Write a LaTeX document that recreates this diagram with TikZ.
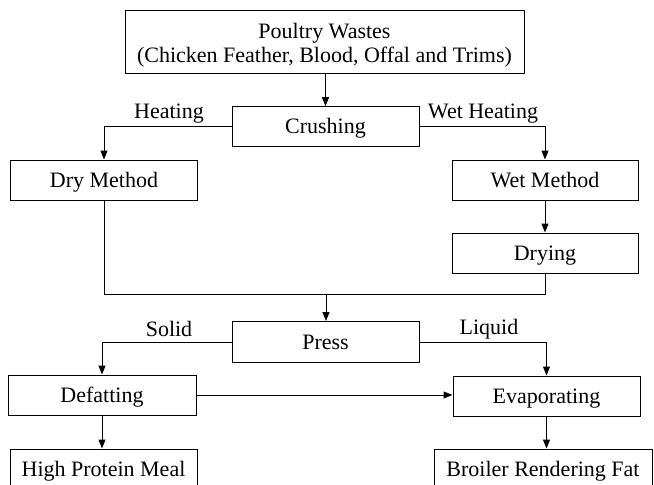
\documentclass[tikz,border=0pt]{standalone}
\usepackage{fontspec}
\setmainfont{Liberation Serif}
\usetikzlibrary{arrows.meta}
\begin{document}
\begin{tikzpicture}[x=1pt,y=-1pt,
  box/.style={draw,line width=1pt,inner sep=0pt,align=center,text height=16.5pt,text depth=2pt,font=\fontsize{22}{24.5}\selectfont},
  lbl/.style={inner sep=0pt,anchor=base,font=\fontsize{22}{24.5}\selectfont},
  conn/.style={line width=1pt},
  arr/.style={line width=1pt,-{Triangle[length=9pt,width=7pt]}}]
\fill[white] (0,0) rectangle (654,485);
\clip (0,0) rectangle (654,485);
\useasboundingbox (0,0) rectangle (654,485);
\node[box,text height=46.3pt,text depth=4.7pt,minimum width=399pt,minimum height=63pt] (top) at (324.5,42) {Poultry Wastes\\(Chicken Feather, Blood, Offal and Trims)};
\node[box,minimum width=187pt,minimum height=40pt] (crush) at (325.5,126.7) {Crushing};
\node[box,minimum width=187pt,minimum height=40pt] (dry) at (104,180) {Dry Method};
\node[box,minimum width=186pt,minimum height=40pt] (wet) at (545,180) {Wet Method};
\node[box,minimum width=186pt,minimum height=40pt] (drying) at (545,253) {Drying};
\node[box,minimum width=187pt,minimum height=41pt] (press) at (325.5,342) {Press};
\node[box,minimum width=188pt,minimum height=40pt] (defat) at (102,395) {Defatting};
\node[box,minimum width=187pt,minimum height=40pt] (evap) at (546.5,396) {Evaporating};
\node[box,minimum width=187pt,minimum height=40pt] (hpm) at (103.5,469) {High Protein Meal};
\node[box,minimum width=218pt,minimum height=40pt] (broil) at (543,469) {Broiler Rendering Fat};
\node[lbl] (lheat) at (169,118.3) {Heating};
\node[lbl] (lwet) at (483,118.3) {Wet Heating};
\node[lbl] (lsolid) at (169,336) {Solid};
\node[lbl] (lliq) at (489,334.5) {Liquid};
\coordinate (mL) at (104,294);
\coordinate (mR) at (545,294);
\coordinate (mC) at (326,294);
\draw[arr] (crush.north |- top.south) -- (crush.north);
\draw[arr] (crush.west) -| (dry.north);
\draw[arr] (crush.east) -| (wet.north);
\draw[arr] (wet.south) -- (drying.north);
\draw[conn] (dry.south -| mL) -- (mL) -- (mR) -- (drying.south -| mR);
\draw[arr] (mC) -- (press.north -| mC);
\draw[arr] (press.west) -| (defat.north);
\draw[arr] (press.east) -| (evap.north);
\draw[arr] (defat.east) -- (evap.west |- defat.east);
\draw[arr] (defat.south) -- (hpm.north -| defat.south);
\draw[arr] (evap.south) -- (broil.north -| evap.south);
\end{tikzpicture}
\end{document}
